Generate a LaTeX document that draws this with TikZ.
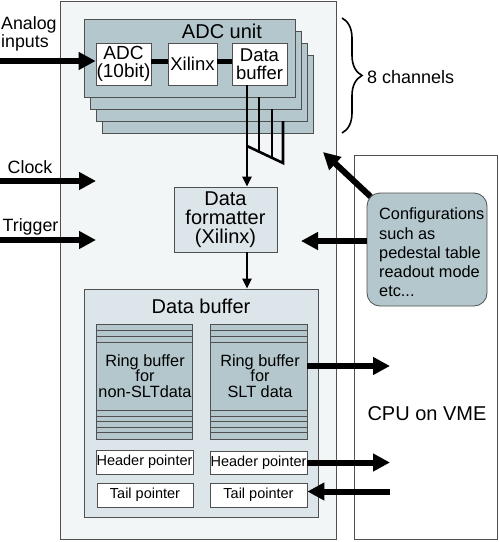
\documentclass[tikz,border=0pt]{standalone}
\usepackage{fontspec}
\setmainfont{Liberation Sans}
\usetikzlibrary{arrows.meta,decorations.pathreplacing,calc}
\definecolor{boardc}{HTML}{F2F6F7}
\definecolor{slate}{HTML}{B3C7CC}
\definecolor{pale}{HTML}{DCE5EA}
\definecolor{edgec}{HTML}{505050}
\newcommand{\myfs}[2]{\fontsize{#1pt}{#2pt}\selectfont}
\begin{document}
\begin{tikzpicture}[x=1pt,y=-1pt,
  box/.style={draw=edgec, line width=0.8pt, inner sep=0pt, align=center},
  layerbox/.style={box, fill=slate, minimum width=211pt, minimum height=78pt},
  whitebox/.style={box, fill=white},
  thickarrow/.style={line width=6pt, -{Triangle[length=17pt,width=17pt]}},
  thinarrow/.style={line width=2.6pt, -{Triangle[length=10pt,width=9pt]}},
  conn/.style={line width=5pt},
  fanline/.style={line width=2.6pt, line join=miter},
  stripe/.style={draw=edgec, line width=0.6pt},
  txt/.style={inner sep=0pt, align=center}
]
\useasboundingbox (0,0) rectangle (499,542);
\fill[white] (0,0) rectangle (499,542);

% main board and CPU
\node[box, fill=boardc, minimum width=276pt, minimum height=538pt] (board) at (198,270) {};
\node[box, fill=white, minimum width=143pt, minimum height=384pt] (cpu) at (425.5,347) {};
\node[txt, font=\myfs{20}{20}] (cpulabel) at (427,414) {CPU on VME};

% ADC unit layers
\node[layerbox] (layer4) at (207.5,94) {};
\node[layerbox] (layer3) at (202,82) {};
\node[layerbox] (layer2) at (195.5,70) {};
\node[layerbox] (layer1) at (189.5,58) {};
\node[txt, font=\myfs{20}{20}] (adcunit) at (222,31) {ADC unit};

\node[whitebox, minimum width=55pt, minimum height=42pt, font=\myfs{19}{18.5}] (adc) at (123.5,64) {ADC\\(10bit)};
\node[whitebox, minimum width=49pt, minimum height=42pt, font=\myfs{18.5}{18.5}] (xil) at (192.5,64) {Xilinx};
\node[whitebox, minimum width=55pt, minimum height=42pt, font=\myfs{18.5}{18.5}] (db) at (259.5,64) {Data\\buffer};

\draw[conn] ($(adc.east)+(0,-3)$) -- ($(xil.west)+(0,-3)$);
\draw[conn] ($(xil.east)+(0,-3)$) -- ($(db.west)+(0,-3)$);

% 8 channels brace
\coordinate (br1) at (342,18);
\coordinate (br2) at (342,133);
\draw[decorate, decoration={brace, amplitude=20pt}, line width=1.6pt] (br1) -- (br2);
\node[txt, anchor=west, font=\myfs{18}{18}] (chan) at (367,77) {8 channels};

% formatter
\node[box, fill=pale, minimum width=103pt, minimum height=65pt, font=\myfs{20}{19}] (fmt) at (225.5,219.5) {Data\\formatter\\(Xilinx)};

% fan-in
\coordinate (f0) at ($(db.south)+(-12.5,0)$);
\coordinate (d1) at (247,146);
\coordinate (d2) at (283,163);
\draw[fanline] (259,97) -- (259,151.7);
\draw[fanline] (272,109) -- (272,157.8);
\draw[fanline] (283,121) -- (d2) -- (d1);
\draw[thinarrow] (f0) -- (f0 |- fmt.north);

% data buffer
\node[box, fill=pale, minimum width=234pt, minimum height=228pt] (dbuf) at (201,403) {};
\node[txt, font=\myfs{20}{20}] (dbuflabel) at (201,306) {Data buffer};
\draw[thinarrow] (f0 |- fmt.south) -- (f0 |- dbuf.north);

\node[box, fill=slate, minimum width=96pt, minimum height=115pt] (ringL) at (144,381.5) {};
\node[box, fill=slate, minimum width=97pt, minimum height=115pt] (ringR) at (258.5,381.5) {};
\foreach \yy in {330.5,336.5,342,410,416,421.5,427,432.5} {
  \draw[stripe] (96,\yy) -- (192,\yy);
  \draw[stripe] (210,\yy) -- (307,\yy);
}
\node[txt, font=\myfs{16.3}{15.5}] (ringLt) at (145,376) {Ring buffer\\for\\non-SLTdata};
\node[txt, font=\myfs{16.3}{15.5}] (ringRt) at (260,376) {Ring buffer\\for\\SLT data};

\node[whitebox, minimum width=97pt, minimum height=24pt, font=\myfs{14.5}{14}] (hpL) at (144.5,462) {Header pointer};
\node[whitebox, minimum width=97pt, minimum height=23pt, font=\myfs{14.5}{14}] (hpR) at (258.5,462.5) {Header pointer};
\node[whitebox, minimum width=96pt, minimum height=24pt, font=\myfs{14.5}{14}] (tpL) at (145,495) {Tail pointer};
\node[whitebox, minimum width=97pt, minimum height=24pt, font=\myfs{14.5}{14}] (tpR) at (258.5,495) {Tail pointer};

% arrows to / from CPU
\coordinate (c1) at (390,366);
\coordinate (c2) at (390,462.5);
\coordinate (c3) at (390,491.5);
\draw[thickarrow] (ringR.east |- c1) -- (c1);
\draw[thickarrow] (hpR.east) -- (c2);
\draw[thickarrow] (c3) -- (tpR.east |- c3);

% configuration box
\node[box, fill=slate, rounded corners=13pt, minimum width=120pt, minimum height=113pt] (cfg) at (427,249.5) {};
\node[inner sep=0pt, anchor=west, align=left, font=\myfs{16.3}{19.3}] (cfgt) at (379,252.5) {Configurations\\such as\\pedestal table\\readout mode\\etc...};
\coordinate (k1) at (301,241);
\coordinate (k2) at (323,152);
\draw[thickarrow] (cfg.west |- k1) -- (k1);
\draw[thickarrow] ($(cfg.north west)+(4,4)$) -- (k2);

% inputs on the left
\node[inner sep=0pt, anchor=west, align=left, font=\myfs{17.8}{18}] (analog) at (1,34) {Analog\\inputs};
\coordinate (a0) at (0,61);
\draw[thickarrow] (a0) -- (a0 -| adc.west);
\node[txt, font=\myfs{17.8}{18}] (clock) at (30,167) {Clock};
\coordinate (ck0) at (0,181);
\coordinate (ck1) at (96,181);
\draw[thickarrow] (ck0) -- (ck1);
\node[txt, font=\myfs{17.8}{18}] (trig) at (30.5,227) {Trigger};
\coordinate (tg0) at (0,240);
\coordinate (tg1) at (96,240);
\draw[thickarrow] (tg0) -- (tg1);
\end{tikzpicture}
\end{document}
